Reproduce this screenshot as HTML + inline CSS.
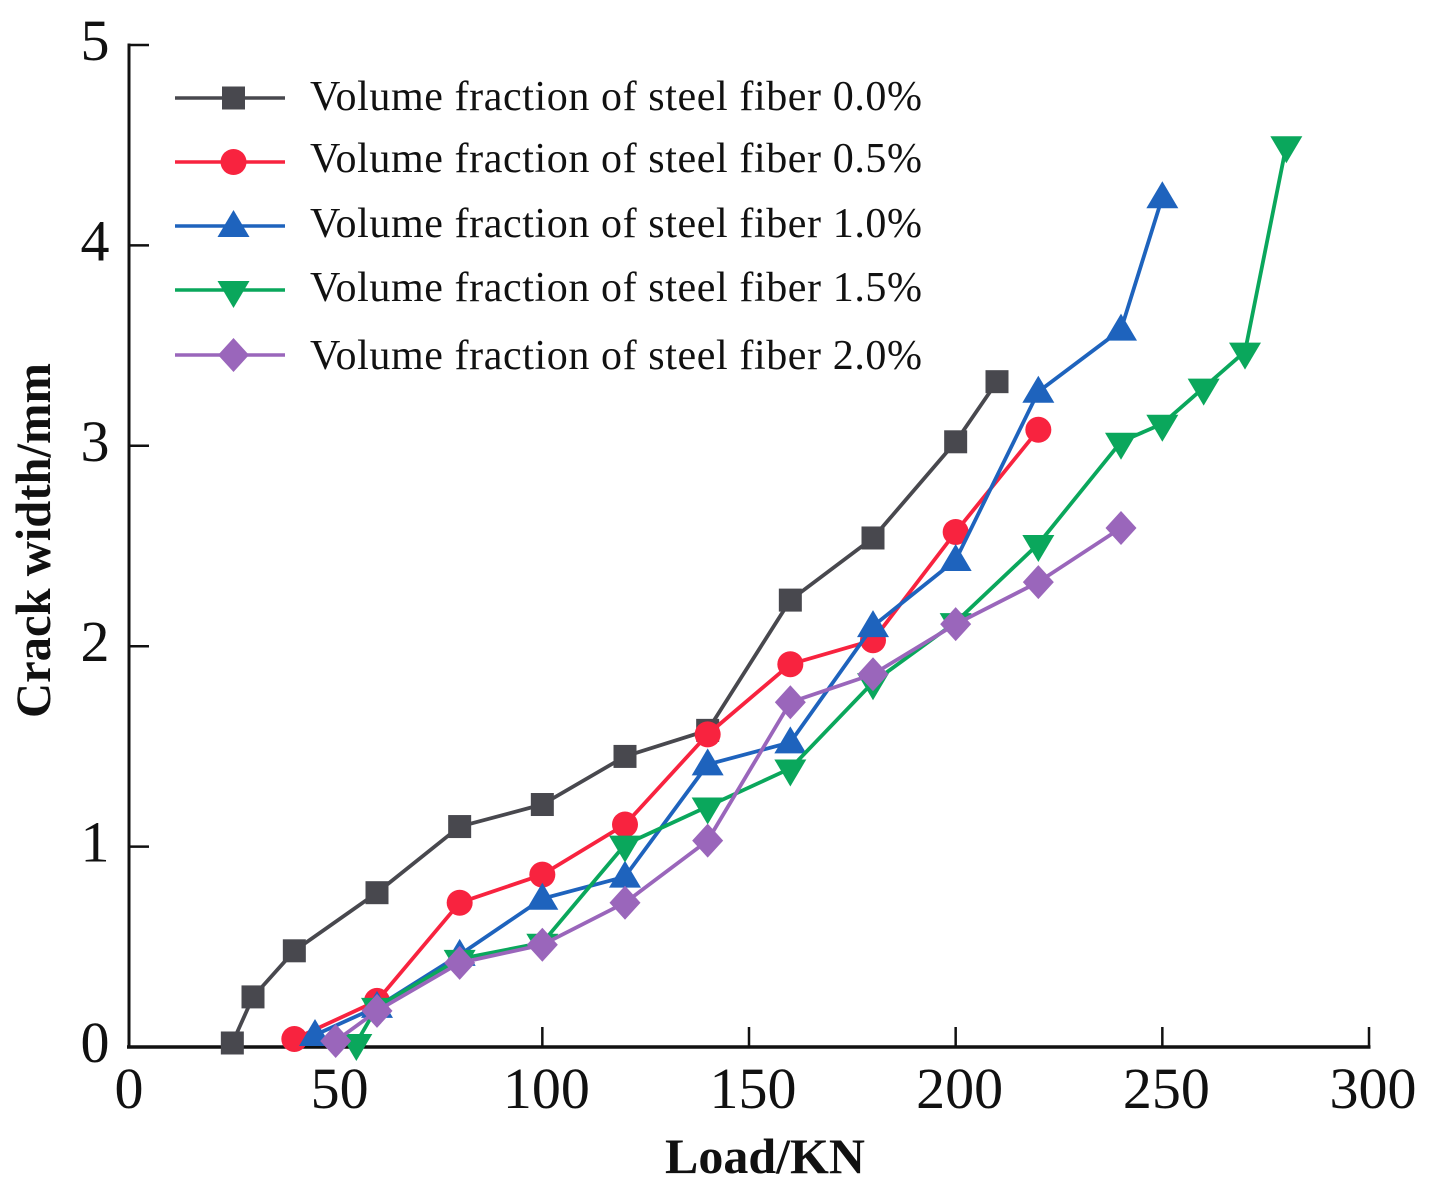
<!DOCTYPE html>
<html>
<head>
<meta charset="utf-8">
<title>Crack width vs load</title>
<style>
html,body{margin:0;padding:0;background:#fff;}
svg{display:block;}
text{font-family:"Liberation Serif",serif;fill:#111;}
</style>
</head>
<body>
<svg id="chart" xmlns="http://www.w3.org/2000/svg" width="1434" height="1194" viewBox="0 0 1434 1194"></svg>
<script>
const xTicks = [0, 50, 100, 150, 200, 250, 300];
const yTicks = [0, 1, 2, 3, 4, 5];
const seriesNames = ['0.0', '0.5', '1.0', '1.5', '2.0'];

const loads00 = [25, 30, 40, 60, 80, 100, 120, 140, 160, 180, 200, 210];
const width00 = [0.02, 0.25, 0.48, 0.77, 1.10, 1.21, 1.45, 1.58, 2.23, 2.54, 3.02, 3.32];
const loads05 = [40, 60, 80, 100, 120, 140, 160, 180, 200, 220];
const width05 = [0.04, 0.23, 0.72, 0.86, 1.11, 1.56, 1.91, 2.03, 2.57, 3.08];
const loads10 = [45, 60, 80, 100, 120, 140, 160, 180, 200, 220, 240, 250];
const width10 = [0.06, 0.20, 0.46, 0.74, 0.85, 1.41, 1.52, 2.10, 2.43, 3.27, 3.58, 4.24];
const loads15 = [55, 60, 80, 100, 120, 140, 160, 180, 200, 220, 240, 250, 260, 270, 280];
const width15 = [0.02, 0.20, 0.44, 0.52, 1.01, 1.20, 1.39, 1.82, 2.12, 2.51, 3.02, 3.11, 3.29, 3.47, 4.50];
const loads20 = [50, 60, 80, 100, 120, 140, 160, 180, 200, 220, 240];
const width20 = [0.03, 0.18, 0.42, 0.51, 0.72, 1.03, 1.72, 1.86, 2.11, 2.32, 2.59];

const svg = document.getElementById('chart');
const NS = 'http://www.w3.org/2000/svg';
function X(v) { return 129 + v * (1240 / 300); }
function Y(v) { return 1047 - v * (1002 / 5); }
function make(tag, attrs, parent) {
  const el = document.createElementNS(NS, tag);
  for (const k in attrs) el.setAttribute(k, attrs[k]);
  (parent || svg).appendChild(el);
  return el;
}
function marker(kind, cx, cy, color, parent) {
  if (kind === 'square') return make('rect', {x: cx - 11.5, y: cy - 11.5, width: 23, height: 23, fill: color}, parent);
  if (kind === 'circle') return make('circle', {cx: cx, cy: cy, r: 13, fill: color}, parent);
  if (kind === 'up') return make('polygon', {points: (cx) + ',' + (cy - 16) + ' ' + (cx + 16) + ',' + (cy + 11) + ' ' + (cx - 16) + ',' + (cy + 11), fill: color}, parent);
  if (kind === 'down') return make('polygon', {points: (cx) + ',' + (cy + 18) + ' ' + (cx + 16) + ',' + (cy - 9) + ' ' + (cx - 16) + ',' + (cy - 9), fill: color}, parent);
  return make('polygon', {points: (cx) + ',' + (cy - 17) + ' ' + (cx + 15.5) + ',' + (cy) + ' ' + (cx) + ',' + (cy + 17) + ' ' + (cx - 15.5) + ',' + (cy), fill: color}, parent);
}

/* axes */
const axisLayer = make('g', {});


const xAxis = make('line', {x1: X(0) - 2, y1: Y(0), x2: X(300) + 1.5, y2: Y(0), stroke: '#111', 'stroke-width': 3.5}, axisLayer);


const yAxis = make('line', {x1: X(0), y1: Y(0) + 1, x2: X(0), y2: Y(5) - 1.5, stroke: '#111', 'stroke-width': 3}, axisLayer);



xTicks.forEach(function (t) {
  const tick = make('line', {x1: X(t), y1: Y(0), x2: X(t), y2: Y(0) - 20, stroke: '#111', 'stroke-width': 2.5}, axisLayer);
  
  
  const label = make('text', {x: X(t) + (t === 0 ? 0 : 4), y: 1108, 'text-anchor': 'middle', 'font-size': 58}, axisLayer);
  label.textContent = t;
  
  
});
yTicks.forEach(function (t) {
  const tick = make('line', {x1: X(0), y1: Y(t), x2: X(0) + 20, y2: Y(t), stroke: '#111', 'stroke-width': 2.5}, axisLayer);
  
  
  const label = make('text', {x: 95, y: Y(t) + 15, 'text-anchor': 'middle', 'font-size': 58}, axisLayer);
  label.textContent = t;
  
  
});

const xTitle = make('text', {x: 665, y: 1173, 'font-size': 50, 'font-weight': 'bold', textLength: 200, lengthAdjust: 'spacingAndGlyphs'});
xTitle.textContent = 'Load/KN';


const yTitle = make('text', {x: 0, y: 0, transform: 'translate(50,718) rotate(-90)', 'font-size': 50, 'font-weight': 'bold', textLength: 355, lengthAdjust: 'spacingAndGlyphs'});
yTitle.textContent = 'Crack width/mm';



/* series */
function drawSeries(name, xs, ys, color, kind) {
  const g = make('g', {});
  
  
  const pts = xs.map(function (x, i) { return X(x) + ',' + Y(ys[i]); }).join(' ');
  const line = make('polyline', {points: pts, fill: 'none', stroke: color, 'stroke-width': 3.8, 'stroke-linejoin': 'round'}, g);
  
  
  xs.forEach(function (x, i) {
    const m = marker(kind, X(x), Y(ys[i]), color, g);
    
    
  });
}
drawSeries('fiber-0-0', loads00, width00, '#48484e', 'square');
drawSeries('fiber-0-5', loads05, width05, '#f8233f', 'circle');
drawSeries('fiber-1-0', loads10, width10, '#1e63bd', 'up');
drawSeries('fiber-1-5', loads15, width15, '#0aa75c', 'down');
drawSeries('fiber-2-0', loads20, width20, '#9a66bb', 'diamond');

/* legend */
const legendRows = [98, 162, 226, 290, 355];
const legendBaselines = [110, 172, 237, 301, 369];
const legendColors = ['#48484e', '#f8233f', '#1e63bd', '#0aa75c', '#9a66bb'];
const legendKinds = ['square', 'circle', 'up', 'down', 'diamond'];
const legend = make('g', {});


seriesNames.forEach(function (n, i) {
  const row = make('g', {}, legend);
  
  
  make('line', {x1: 175, y1: legendRows[i], x2: 285, y2: legendRows[i], stroke: legendColors[i], 'stroke-width': 3.5}, row);
  marker(legendKinds[i], 233.5, legendRows[i], legendColors[i], row);
  const label = make('text', {x: 310, y: legendBaselines[i], 'font-size': 42, textLength: 612, lengthAdjust: 'spacing'}, row);
  label.textContent = 'Volume fraction of steel fiber ' + n + '%';
  
  
});
</script>
</body>
</html>
